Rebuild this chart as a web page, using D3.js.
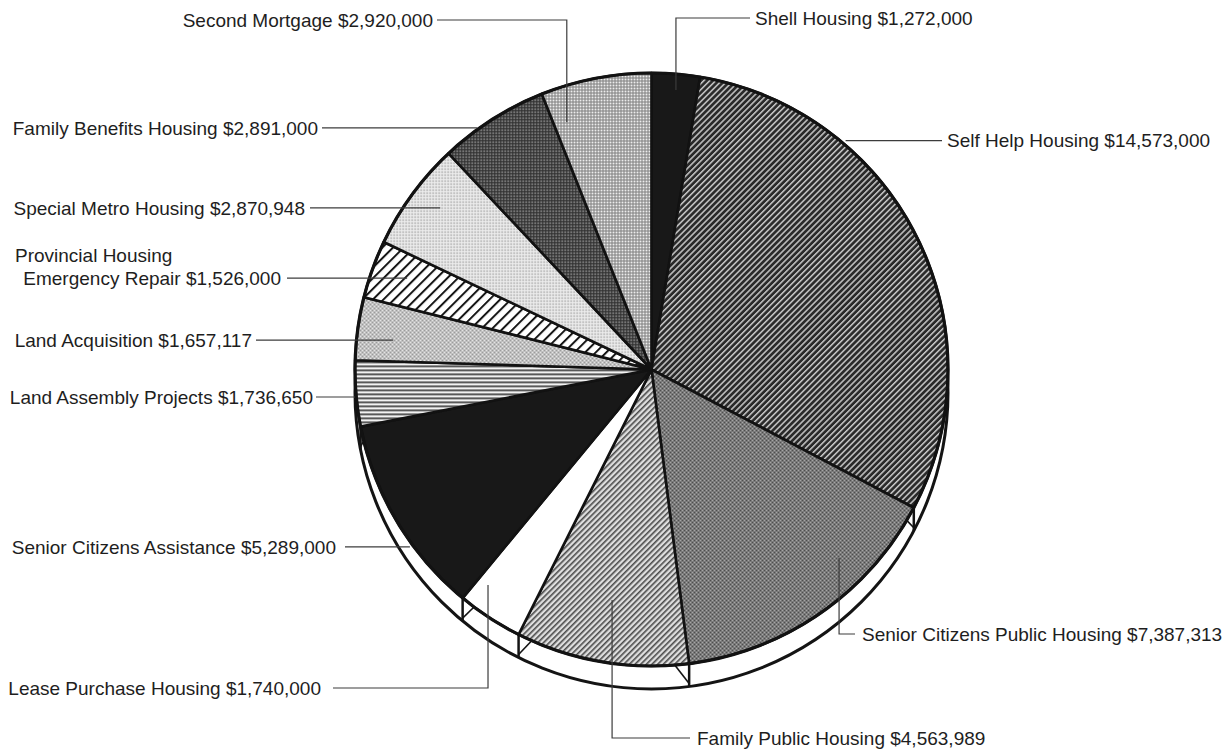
<!DOCTYPE html>
<html>
<head>
<meta charset="utf-8">
<script src="https://cdn.jsdelivr.net/npm/d3@7"></script>
<style>
  html, body { margin: 0; background: #fff; }
  svg { display: block; }
  text { font-family: "Liberation Sans", Arial, Helvetica, sans-serif; font-size: 19px; fill: #1e1e1e; }
</style>
</head>
<body>
<svg id="chart" width="1224" height="751"></svg>
<script>
// Housing programme budgets, clockwise from 12 o'clock
const categories = [
  "Shell Housing",
  "Self Help Housing",
  "Senior Citizens Public Housing",
  "Family Public Housing",
  "Lease Purchase Housing",
  "Senior Citizens Assistance",
  "Land Assembly Projects",
  "Land Acquisition",
  "Provincial Housing Emergency Repair",
  "Special Metro Housing",
  "Family Benefits Housing",
  "Second Mortgage"
];
const amounts = [1272000, 14573000, 7387313, 4563989, 1740000, 5289000,
                 1736650, 1657117, 1526000, 2870948, 2891000, 2920000];
// label text lines (the amount is appended to the last line)
const labelLines = [
  ["Shell Housing"],
  ["Self Help Housing"],
  ["Senior Citizens Public Housing"],
  ["Family Public Housing"],
  ["Lease Purchase Housing"],
  ["Senior Citizens Assistance"],
  ["Land Assembly Projects"],
  ["Land Acquisition"],
  ["Provincial Housing", "Emergency Repair"],
  ["Special Metro Housing"],
  ["Family Benefits Housing"],
  ["Second Mortgage"]
];

// ---- layout ----
const cx = 651.5, cy = 369.5, R = 296.5, depth = 23;

// fill style per slice (pattern ids defined below)
const fills = ["solidDark", "hatchDark", "checkMid", "hatchLight", "plain", "solidDark",
               "hLines", "checkLight", "hatchWide", "dotsLight", "gridDark", "gridLight"];

// leader placement: anchor in polar terms on the pie, then route to text
const labelLayout = [
  { deg: 5.0,    rf: 0.946, route: "vh", turnY: 18,  lineTo: 750, textX: 755, align: "start" },
  { deg: 40.3,   rf: 1.012, route: "h",               lineTo: 942, textX: 947, align: "start" },
  { deg: 135.15, rf: 0.897, route: "vh", turnY: 634, lineTo: 855, textX: 862, align: "start" },
  { deg: 189.7,  rf: 0.789, route: "vh", turnY: 738, lineTo: 690, textX: 697, align: "start" },
  { deg: 217.2,  rf: 0.912, route: "vh", turnY: 688, lineTo: 333, textX: 321, align: "end" },
  { deg: 233.7,  rf: 1.011, route: "h",               lineTo: 345, textX: 336, align: "end" },
  { deg: 264.7,  rf: 1.004, route: "h",               lineTo: 316, textX: 313, align: "end" },
  { deg: 276.5,  rf: 0.877, route: "h",               lineTo: 256, textX: 252, align: "end" },
  { deg: 290.5,  rf: 0.880, route: "h",               lineTo: 287, textX: 281, align: "end", firstX: 15, lineGap: 23 },
  { deg: 307.4,  rf: 0.897, route: "h",               lineTo: 310, textX: 305, align: "end" },
  { deg: 324.15, rf: 1.005, route: "h",               lineTo: 322, textX: 318, align: "end" },
  { deg: 341.1,  rf: 0.882, route: "vh", turnY: 20,  lineTo: 437, textX: 433, align: "end" }
];

const svg = d3.select("#chart");
const defs = svg.append("defs");

// ---- fill patterns ----
function stripes(id, period, lineW, bg, fg, angle) {
  const p = defs.append("pattern").attr("id", id)
    .attr("patternUnits", "userSpaceOnUse")
    .attr("width", period).attr("height", period)
    .attr("patternTransform", `rotate(${angle})`);
  p.append("rect").attr("width", period).attr("height", period).attr("fill", bg);
  p.append("rect").attr("width", lineW).attr("height", period).attr("fill", fg);
}
function checker(id, cell, a, b) {
  const p = defs.append("pattern").attr("id", id)
    .attr("patternUnits", "userSpaceOnUse")
    .attr("width", cell * 2).attr("height", cell * 2);
  p.append("rect").attr("width", cell * 2).attr("height", cell * 2).attr("fill", a);
  p.append("rect").attr("width", cell).attr("height", cell).attr("fill", b);
  p.append("rect").attr("x", cell).attr("y", cell).attr("width", cell).attr("height", cell).attr("fill", b);
}
function grid(id, size, bg, fg, dot) {
  const p = defs.append("pattern").attr("id", id)
    .attr("patternUnits", "userSpaceOnUse")
    .attr("width", size).attr("height", size);
  p.append("rect").attr("width", size).attr("height", size).attr("fill", bg);
  p.append("rect").attr("width", dot).attr("height", dot).attr("fill", fg);
}

defs.append("pattern").attr("id", "solidDark").attr("patternUnits", "userSpaceOnUse")
  .attr("width", 4).attr("height", 4)
  .append("rect").attr("width", 4).attr("height", 4).attr("fill", "#181818");
defs.append("pattern").attr("id", "plain").attr("patternUnits", "userSpaceOnUse")
  .attr("width", 4).attr("height", 4)
  .append("rect").attr("width", 4).attr("height", 4).attr("fill", "#ffffff");

stripes("hatchDark", 4.2, 1.5, "#2a2a2a", "#c6c6c6", 45);
stripes("hatchLight", 4.0, 1.6, "#dedede", "#4a4a4a", 45);
stripes("hatchWide", 7.5, 2.0, "#ffffff", "#151515", 45);
stripes("hLines", 4.0, 1.6, "#f2f2f2", "#333333", 90);
checker("checkMid", 2, "#a6a6a6", "#4e4e4e");
checker("checkLight", 2, "#e4e4e4", "#9c9c9c");
grid("dotsLight", 3, "#ededed", "#8a8a8a", 1.3);
grid("gridDark", 3, "#2f2f2f", "#bdbdbd", 1.4);
grid("gridLight", 3, "#7e7e7e", "#ececec", 2.0);

// ---- pie geometry ----
const pie = d3.pie().sort(null).value(d => d).startAngle(0).endAngle(2 * Math.PI);
const arcs = pie(amounts);
const arcGen = d3.arc().innerRadius(0).outerRadius(R);
const pt = (a, r) => [cx + r * Math.sin(a), cy - r * Math.cos(a)];

const g = svg.append("g");

// side wall: circle pushed down by the pie depth
g.append("circle")
  .attr("cx", cx).attr("cy", cy + depth).attr("r", R)
  .attr("fill", "#fff").attr("stroke", "#141414").attr("stroke-width", 3);

// wall seams at slice boundaries on the lower half
const seams = arcs.map(d => d.startAngle).filter(a => Math.cos(a) < -0.02);
seams.forEach(a => {
  const [x, y] = pt(a, R);
  g.append("line")
    .attr("x1", x).attr("y1", y).attr("x2", x).attr("y2", y + depth)
    .attr("stroke", "#141414").attr("stroke-width", 2.5);
  const shift = (a < Math.PI ? 1 : -1) * 2.8 * Math.PI / 180;
  const [x2, y2] = pt(a + shift, R);
  g.append("line")
    .attr("x1", x2).attr("y1", y2).attr("x2", x).attr("y2", y + depth - 3)
    .attr("stroke", "#141414").attr("stroke-width", 1.6);
});

// top face slices
g.selectAll("path.slice")
  .data(arcs)
  .join("path")
  .attr("class", "slice")
  .attr("transform", `translate(${cx},${cy})`)
  .attr("d", arcGen)
  .attr("fill", (d, i) => `url(#${fills[i]})`)
  .attr("stroke", "#121212")
  .attr("stroke-width", 2.6)
  .attr("stroke-linejoin", "round");

// face rim
g.append("circle")
  .attr("cx", cx).attr("cy", cy).attr("r", R)
  .attr("fill", "none").attr("stroke", "#121212").attr("stroke-width", 3.2);

// ---- leaders and labels ----
const money = d3.format("$,");
const labels = svg.append("g");

labelLayout.forEach((L, i) => {
  const a = L.deg * Math.PI / 180;
  const [ax, ay] = pt(a, L.rf * R);
  let pathD, ty;
  if (L.route === "vh") {
    ty = L.turnY;
    pathD = `M${ax},${ay}V${ty}H${L.lineTo}`;
  } else {
    ty = ay;
    pathD = `M${ax},${ay}H${L.lineTo}`;
  }
  labels.append("path")
    .attr("d", pathD)
    .attr("fill", "none")
    .attr("stroke", "#3c3c3c")
    .attr("stroke-width", 1.2);

  const lines = labelLines[i].slice();
  lines[lines.length - 1] += " " + money(amounts[i]);
  const n = lines.length;
  lines.forEach((t, k) => {
    const isLast = k === n - 1;
    const y = ty - (n - 1 - k) * (L.lineGap || 23) + 6.8;
    const txt = labels.append("text").attr("y", y).text(t);
    if (!isLast && L.firstX !== undefined) {
      txt.attr("x", L.firstX).attr("text-anchor", "start");
    } else {
      txt.attr("x", L.textX).attr("text-anchor", L.align);
    }
  });
});
</script>
</body>
</html>
